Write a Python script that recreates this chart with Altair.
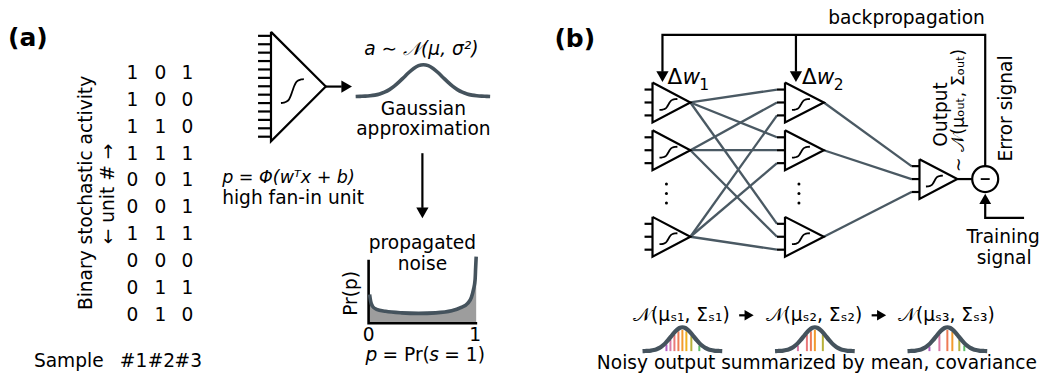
import altair as alt
import pandas as pd
import numpy as np

# ---------------- data (values / labels) ----------------
matrix_rows = [
    [1, 0, 1], [1, 0, 0], [1, 1, 0], [1, 1, 1], [0, 0, 1],
    [0, 0, 1], [1, 1, 1], [0, 0, 0], [0, 1, 1], [0, 1, 0],
]
sample_labels = ["#1", "#2", "#3"]
# half bell profile, steps of 0.25 sigma
bell_half = [1.0, 0.969, 0.882, 0.755, 0.607, 0.458, 0.325, 0.216, 0.135,
             0.080, 0.044, 0.023, 0.011, 0.005, 0.002, 0.0]
sigmoid_u = [-1, -0.75, -0.5, -0.3, -0.15, 0, 0.15, 0.3, 0.5, 0.75, 1]
sigmoid_v = [-1, -0.97, -0.88, -0.7, -0.4, 0, 0.4, 0.7, 0.88, 0.97, 1]
# propagated noise density Pr(p)
noise_p = [0.0, 0.01, 0.028, 0.065, 0.15, 0.30, 0.46, 0.62, 0.77, 0.86,
           0.92, 0.955, 0.975, 0.99, 0.995, 1.0]
noise_pr = [2.8, 2.1, 1.6, 1.3, 1.1, 0.95, 0.9, 0.95, 1.15, 1.5,
            1.9, 2.5, 3.3, 4.3, 5.5, 6.6]
bar_colors = ["#b25fc6", "#db7aa6", "#e9787a", "#ee7b55", "#f29a2e",
              "#f0b020", "#b8b13a", "#5fc06a"]
FONT = "DejaVu Sans"
FS = 18.6
BLACK = "#000000"
GRAY = "#4a5963"
SLATE = "#45535d"

# ---------------- geometry builders ----------------
paths = []
gid = [0]


def add_path(kind, pts):
    gid[0] += 1
    for i, (x, y) in enumerate(pts):
        paths.append(dict(g=gid[0], o=i, x=x, y=y, kind=kind))


def bell_points(cx, by, H, s, xmin, xmax):
    full = bell_half[::-1] + bell_half[1:]
    n = len(bell_half) - 1
    pts = [(xmin, by)]
    for i, v in enumerate(full):
        t = (i - n) * 0.25
        x = cx + t * s
        if xmin < x < xmax:
            pts.append((x, by - H * v))
    pts.append((xmax, by))
    return pts


def bell_at(off, s):
    t = abs(off) / s / 0.25
    return float(np.interp(t, range(len(bell_half)), bell_half))


def sigmoid(cx, cy, hw, hh):
    add_path("sig", [(cx + u * hw, cy - v * hh) for u, v in zip(sigmoid_u, sigmoid_v)])


def unit(L, T, C, h, ticks, tl, sig):
    add_path("k2", [(L, C - h), (T, C), (L, C + h), (L, C - h)])
    for ty in ticks:
        add_path("k2", [(L - tl, ty), (L, ty)])
    sigmoid(*sig)


heads = []  # arrowheads
texts = []


def txt(t, x, y, size=FS, angle=0, style="normal", weight="normal", align="center",
        baseline="middle"):
    texts.append(dict(t=t, x=x, y=y, size=size, angle=angle, style=style,
                      weight=weight, align=align, baseline=baseline))


# ---------------- panel (a) ----------------
txt("(a)", 28, 41, 25, weight="bold")
col_x = [133, 161, 188]
for r, row in enumerate(matrix_rows):
    for c, v in enumerate(row):
        txt(str(v), col_x[c], 76 + 27.1 * r)
for c, lab in enumerate(sample_labels):
    txt(lab, col_x[c] + 1, 366)
txt("Sample", 69, 366)
txt("Binary stochastic activity", 86, 197, angle=270)
txt("← unit # →", 108, 198, angle=270)

# big unit
unit(272, 327, 90, 55, [39 + 8.45 * i for i in range(13)], 13, (293.5, 94.5, 11.5, 12))
add_path("k2", [(327, 90), (343, 90)])
heads.append(dict(x=348, y=90, shape="triangle-right", size=150))
add_path("slate", bell_points(425, 100, 32, 19.5, 357, 492))
txt("a ∼ 𝒩(μ, σ²)", 423, 52, FS, style="italic")
txt("Gaussian", 425, 113)
txt("approximation", 425, 133)
txt("p = Φ(wᵀx + b)", 223, 182, 17.5, style="italic", align="left")
txt("high fan-in unit", 223, 202, align="left")
add_path("k2", [(424, 157), (424, 212)])
heads.append(dict(x=424, y=217, shape="triangle-down", size=150))

# propagated noise plot
X0, Y0, WX, SY = 371, 327, 107, 10
noise_df = pd.DataFrame(dict(x=[X0 + p * WX for p in noise_p],
                             y=[Y0 - v * SY for v in noise_pr],
                             y0=[Y0] * len(noise_p)))
add_path("k25", [(370, 264), (370, 328), (479, 328)])
txt("propagated", 424, 247)
txt("noise", 424, 268)
txt("Pr(p)", 352, 298, angle=270)
txt("0", 370, 339.5)
txt("1", 477, 339.5)
txt("p", 367, 360, style="italic", align="left")
txt("= Pr(", 384, 360, align="left")
txt("s", 431, 360, style="italic", align="left")
txt("= 1)", 446, 360, align="left")

# ---------------- panel (b) ----------------
txt("(b)", 577, 42, 25, weight="bold")
C_layer = [106, 154, 241]
for L, T in [(655, 693), (788, 827)]:
    for C in C_layer:
        unit(L, T, C, 20, [C - 13, C, C + 13], 8, (L + 16, C + 2, 9, 5.5))
unit(923, 961, 183, 20, [170, 183, 196], 8, (938, 185, 8.5, 5.5))
# connections layer1 -> layer2
for i, Ci in enumerate(C_layer):
    for Cj in C_layer:
        add_path("conn", [(693, Ci), (780, Cj - 13 + 13 * i)])
for j, Cj in enumerate(C_layer):
    add_path("conn", [(827, Cj), (915, 170 + 13 * j)])
dots = pd.DataFrame(dict(x=[669] * 3 + [802] * 3, y=[188, 197.5, 207] * 2))

# error circle and backprop
add_path("k2", [(961, 183), (976, 183)])
circle_df = pd.DataFrame(dict(x=[989], y=[183]))
add_path("k18", [(984.5, 183), (993.5, 183)])
add_path("k2", [(989, 170), (989, 38), (665, 38), (665, 75)])
add_path("k2", [(799, 38), (799, 75)])
heads.append(dict(x=665, y=80, shape="triangle-down", size=150))
heads.append(dict(x=799, y=80, shape="triangle-down", size=150))
add_path("k2", [(1028, 222), (989, 222), (989, 208)])
heads.append(dict(x=989, y=203, shape="triangle-up", size=140))

txt("backpropagation", 910, 21.5)
for xb, sub in [(670, "1"), (805, "2")]:
    txt("Δ", xb, 81, 21.5, align="left")
    txt("w", xb + 15, 81, 21.5, style="italic", align="left")
    txt(sub, xb + 32, 88, 15.5, align="left")
txt("Output", 945, 118, angle=270)
txt("∼ 𝒩(μₒᵤₜ, Σₒᵤₜ)", 963, 114, 17.5, angle=270)
txt("Error signal", 1010, 112, angle=270)
txt("Training", 1007, 241)
txt("signal", 1008, 262)

# bottom gaussians
GB = 356  # baseline of the small gaussians
bars = []
g_centers = [685, 818, 951]
g_offsets = [
    [-16, -12, -8, -4, 0, 4, 9, 17],
    [-17, -8, -4, 0, 8],
    [-18, -8, 0, 5, 12, 17],
]
g_cols = [
    bar_colors,
    [bar_colors[1], bar_colors[2], bar_colors[3], bar_colors[4], bar_colors[6]],
    [bar_colors[0], bar_colors[1], bar_colors[3], bar_colors[4], bar_colors[6], bar_colors[7]],
]
for gi, (cx, offs, cols) in enumerate(zip(g_centers, g_offsets, g_cols)):
    for off, col in zip(offs, cols):
        bars.append(dict(x=cx + off, y=GB, y2=GB - 24 * bell_at(off, 11.5) + 2.5, c=col))
    add_path("slate4", bell_points(cx, GB, 24, 11.5, cx - 40, cx + 40))
    sub = "₁₂₃"[gi]
    txt(f"𝒩(μₛ{sub}, Σₛ{sub})", cx - 1, 320)
for xa in [742, 875]:
    add_path("k2", [(xa, 320), (xa + 8, 320)])
    heads.append(dict(x=xa + 10, y=320, shape="triangle-right", size=110))
txt("Noisy output summarized by mean, covariance", 820, 374, baseline="alphabetic")

# ---------------- chart ----------------
xs = alt.Scale(domain=[8, 1044], nice=False, zero=False)
ys = alt.Scale(domain=[11, 379], nice=False, zero=False, reverse=True)
X = lambda f="x": alt.X(f"{f}:Q", scale=xs, axis=None)
Y = lambda f="y": alt.Y(f"{f}:Q", scale=ys, axis=None)

pdf = pd.DataFrame(paths)
styles = {
    "k2": dict(color=BLACK, strokeWidth=2.2, interpolate="linear"),
    "k25": dict(color=BLACK, strokeWidth=2.6, interpolate="linear"),
    "k18": dict(color=BLACK, strokeWidth=1.8, interpolate="linear"),
    "sig": dict(color=BLACK, strokeWidth=1.8, interpolate="monotone"),
    "conn": dict(color=GRAY, strokeWidth=2.3, interpolate="linear"),
    "slate": dict(color=SLATE, strokeWidth=3.6, interpolate="monotone"),
    "slate4": dict(color=SLATE, strokeWidth=4.2, interpolate="monotone"),
}

layers = []
# noise fill
layers.append(alt.Chart(noise_df).mark_area(color="#9d9d9d", interpolate="monotone").encode(
    x=X(), y=Y(), y2="y0"))
# colored bars
layers.append(alt.Chart(pd.DataFrame(bars)).mark_rule(strokeWidth=2).encode(
    x=X(), y=Y(), y2="y2", color=alt.Color("c:N", scale=None)))
order_kinds = ["conn", "slate", "slate4", "k2", "k25", "k18", "sig"]
for k in order_kinds:
    sub = pdf[pdf.kind == k]
    if len(sub) == 0:
        continue
    st = styles[k]
    layers.append(alt.Chart(sub).mark_line(
        color=st["color"], strokeWidth=st["strokeWidth"], interpolate=st["interpolate"],
        strokeCap="butt", strokeJoin="miter").encode(
        x=X(), y=Y(), detail="g:N", order="o:Q"))
# noise curve line
layers.append(alt.Chart(noise_df).mark_line(color=SLATE, strokeWidth=3.6, interpolate="monotone").encode(
    x=X(), y=Y()))
# arrowheads
layers.append(alt.Chart(pd.DataFrame(heads)).mark_point(filled=True, color=BLACK, opacity=1).encode(
    x=X(), y=Y(), shape=alt.Shape("shape:N", scale=None), size=alt.Size("size:Q", scale=None)))
# dots
layers.append(alt.Chart(dots).mark_point(filled=True, color=BLACK, size=9, opacity=1).encode(x=X(), y=Y()))
# circle
layers.append(alt.Chart(circle_df).mark_point(shape="circle", filled=False, color=BLACK,
                                               size=676, strokeWidth=2.2, opacity=1).encode(x=X(), y=Y()))
# texts
tdf = pd.DataFrame(texts)
for (style, weight, align, base), sub in tdf.groupby(["style", "weight", "align", "baseline"]):
    layers.append(alt.Chart(sub).mark_text(
        font=FONT, fontStyle=style, fontWeight=weight, align=align, baseline=base,
        color=BLACK).encode(
        x=X(), y=Y(), text="t:N",
        size=alt.Size("size:Q", scale=None),
        angle=alt.Angle("angle:Q", scale=None)))

chart = alt.layer(*layers).properties(
    width=1032, height=366, padding=0,
    autosize=alt.AutoSizeParams(type="none"),
    background="white",
).configure_view(stroke=None)

chart.save("out.html", embed_options={"renderer": "svg", "actions": False})
